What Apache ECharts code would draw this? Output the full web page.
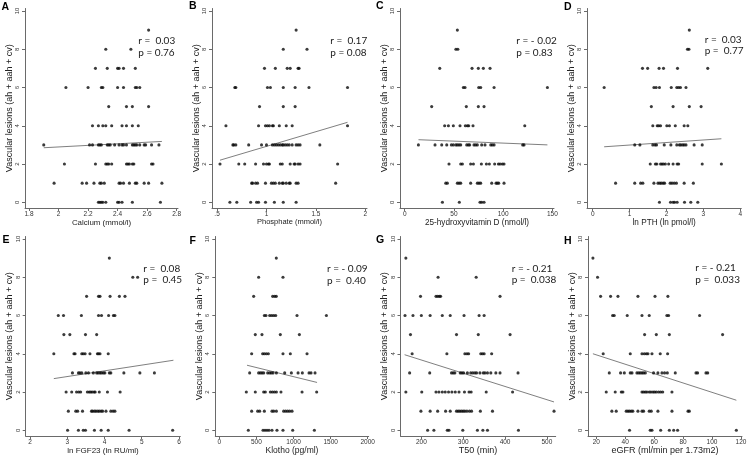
<!DOCTYPE html>
<html>
<head>
<meta charset="utf-8">
<script src="https://cdn.jsdelivr.net/npm/echarts@6/dist/echarts.min.js"></script>
<style>html,body{margin:0;padding:0;background:#fff}#c{width:750px;height:457px}</style>
</head>
<body>
<div id="c"></div>
<script>
// ---- data: rows of [lesion count, [x values]] ----
const calciumRows = [
  [9,[2.61]],[8,[2.32,2.49]],[7,[2.25,2.33,2.40,2.41,2.44,2.52]],
  [6,[2.05,2.20,2.29,2.30,2.40,2.44,2.52,2.53,2.55]],[5,[2.34,2.46,2.50,2.61]],
  [4,[2.23,2.27,2.30,2.32,2.36,2.43,2.46,2.50,2.54]],
  [3,[1.90,2.21,2.23,2.27,2.28,2.29,2.33,2.34,2.35,2.38,2.41,2.43,2.44,2.46,2.50,2.51,2.52,2.53,2.55,2.58,2.59,2.63,2.68]],
  [2,[2.04,2.25,2.32,2.33,2.34,2.36,2.46,2.47,2.48,2.50,2.51,2.63,2.64]],
  [1,[1.97,2.16,2.19,2.24,2.28,2.29,2.31,2.41,2.42,2.44,2.48,2.52,2.53,2.58,2.61,2.70]],
  [0,[2.27,2.28,2.29,2.30,2.32,2.40,2.41,2.43,2.50,2.69]]
];
const calciumFit = [[1.90,2.85],[2.70,3.18]];
const phosphateRows = [
  [9,[1.30]],[8,[1.17,1.41]],[7,[0.98,1.09,1.21,1.24,1.32,1.33]],
  [6,[0.68,0.69,1.01,1.04,1.17,1.29,1.43,1.82]],[5,[0.93,1.17,1.29]],
  [4,[0.59,0.92,0.99,1.01,1.03,1.06,1.07,1.13,1.20,1.26,1.82]],
  [3,[0.66,0.67,0.69,0.82,0.95,1.00,1.06,1.08,1.10,1.12,1.14,1.16,1.17,1.19,1.21,1.23,1.26,1.30,1.32,1.34,1.54]],
  [2,[0.53,0.72,0.78,0.89,0.97,1.00,1.02,1.03,1.14,1.16,1.24,1.28,1.29,1.32,1.34,1.72]],
  [1,[0.85,0.86,0.89,0.91,0.99,1.05,1.07,1.09,1.13,1.16,1.17,1.20,1.23,1.24,1.30,1.32,1.70]],
  [0,[0.63,0.70,0.84,0.90,0.92,0.99,1.08,1.17,1.30]]
];
const phosphateFit = [[0.53,2.2],[1.82,4.18]];
const vitaminDRows = [
  [9,[53.5]],[8,[52,54]],[7,[35.6,68.4,74.8,79.9,86.7]],
  [6,[59.6,61.3,75.2,77.2,90.8,145]],[5,[27.4,62.6,74.8,80.6]],
  [4,[40.6,44.4,49.4,56.2,61.6,63.7,65,69.4,122]],
  [3,[13.9,30.8,37.6,42.7,47.4,49.4,52,53.5,55.2,56.9,63,64.7,66,70.4,72.1,73.8,78.2,81.6,87.4,89,90.8,119.9,121.2]],
  [2,[45,56.9,58.6,67,69.8,77.9,83,86,91.4,95.2,96.9,99.2,100.9]],
  [1,[41.7,43.3,53.5,55.2,56.9,67,73.8,75.5,77.2,88.4,92.8,94.1,95.5,100.9]],
  [0,[38.3,55.5,76.5,78.2,80.6]]
];
const vitaminDFit = [[14,3.27],[145,3.0]];
const pthRows = [
  [9,[2.62]],[8,[2.57,2.61]],[7,[1.35,1.49,1.80,1.92,2.30,3.12]],
  [6,[0.31,1.66,1.72,1.81,2.13,2.28,2.33,2.38,2.53]],[5,[1.59,2.18,2.62,2.94]],
  [4,[1.63,1.75,1.79,1.84,2.01,2.08,2.24,2.48,2.58]],
  [3,[1.14,1.28,1.63,1.69,1.73,1.94,2.12,2.28,2.35,2.39,2.44,2.48,2.53,2.75,2.97]],
  [2,[1.56,1.70,1.74,1.84,1.88,1.92,1.97,2.06,2.18,2.29,2.33,2.97,3.49]],
  [1,[0.62,1.14,1.30,1.36,1.66,1.77,1.82,1.86,1.91,1.95,2.10,2.15,2.21,2.27,2.48,2.73]],
  [0,[1.81,2.11,2.18,2.22,2.29,2.49,2.66,2.85]]
];
const pthFit = [[0.31,2.9],[3.49,3.32]];
const fgf23Rows = [
  [9,[4.13]],[8,[4.76,4.89]],[7,[3.52,3.84,3.88,4.15,4.40,4.55]],
  [6,[2.76,2.90,3.38,3.84,3.92,4.11,4.24,4.28]],[5,[2.91,3.07,3.49,3.79]],
  [4,[2.64,3.18,3.21,3.39,3.43,3.48,3.61,3.81,3.84,3.88,4.10]],
  [3,[3.14,3.30,3.34,3.39,3.50,3.57,3.70,3.79,3.83,3.88,3.92,3.97,4.01,4.13,4.17,4.52,4.95,5.34]],
  [2,[2.97,3.12,3.25,3.31,3.36,3.54,3.59,3.63,3.67,3.72,3.75,3.86,4.08,4.42]],
  [1,[3.03,3.23,3.28,3.41,3.65,3.68,3.73,3.77,3.82,3.86,3.91,3.95,4.04,4.17,4.23,4.28]],
  [0,[3.01,3.30,3.43,3.49,3.73,3.91,4.10,4.66,5.83]]
];
const fgf23Fit = [[2.64,2.7],[5.85,3.66]];
const klothoRows = [
  [9,[768]],[8,[530,858]],[7,[463,719,746,768]],
  [6,[607,629,679,706,733,760,1047,1443]],[5,[485,575,822,1079]],
  [4,[436,584,607,634,661,858,957,1182]],
  [3,[409,530,553,575,598,652,679,701,724,769,881,971,1061,1119,1209,1236,1290]],
  [2,[364,485,598,620,688,715,742,769,831,1115,1312]],
  [1,[436,517,544,607,710,733,769,867,894,921,948,980]],
  [0,[391,589,616,643,670,710,777,858,989,1281]]
];
const klothoFit = [[373,3.4],[1317,2.5]];
const t50Rows = [
  [9,[163]],[8,[240,331]],[7,[198,235,239,243,246,388]],
  [6,[161,180,200,221,250,269,302,338,350]],[5,[174,284,336,412]],
  [4,[178,261,304,309,313,342,346,350,368]],
  [3,[172,220,272,276,280,293,297,301,310,318,323,328,332,340,348,352,358,366,378,388,431]],
  [2,[163,201,235,242,250,257,265,273,281,290,303,314,319,355,418]],
  [1,[199,221,239,258,269,284,288,292,296,300,304,309,315,320,341,370,517]],
  [0,[215,230,262,266,299,334,347,358,432]]
];
const t50Fit = [[160,3.95],[517,1.48]];
const egfrRows = [
  [9,[17.7]],[8,[20.9]],[7,[23,29.9,35,48.8,60.6,69.5]],
  [6,[31.3,32.4,41.4,51.6,56.6,68.8,70,91.4]],[5,[53.4,61.5,70.5,107.3]],
  [4,[24.8,43.5,51.6,53.2,54.6,55.7,58.5,64.2,69.3]],
  [3,[29,36.8,39.4,43.5,44.7,48.1,49.3,50.4,51.6,52.7,53.9,59.6,62.6,65.4,67.2,69.1,74.6,88.9,90,95.8,97]],
  [2,[26.9,33.1,37.3,38.4,51.6,52.7,53.9,55,56.6,57.8,59.2,60.3,61.5,63.1,64.5,65.9,72.3]],
  [1,[30.8,33.8,40.7,41.9,43,44.2,45.3,48.8,51.6,52.7,56.6,58,62.6,72.3,83.4,84.3]],
  [0,[43,57.3,58.5,64.5,70.5,73.5,76.2,116.8]]
];
const egfrFit = [[17.7,4.0],[116.8,1.57]];

// ---- tick labels ----
const yTicks = [0,2,4,6,8,10];
const calciumTicks = [1.8,2,2.2,2.4,2.6,2.8];
const phosphateTicks = [0.5,1,1.5,2];
const phosphateTickLabels = ['.5','1','1.5','2'];
const vitaminDTicks = [0,50,100,150];
const pthTicks = [0,1,2,3,4];
const fgf23Ticks = [2,3,4,5,6];
const klothoTicks = [0,500,1000,1500,2000];
const t50Ticks = [200,300,400,500];
const egfrTicks = [20,40,60,80,100,120];

const yTitle = 'Vascular lesions (ah + aah + cv)';
const stats = [
  ['r =  0.03','p = 0.76'],['r =  0.17','p = 0.08'],['r = - 0.02','p = 0.83'],['r =  0.03','p =  0.77'],
  ['r =  0.08','p =  0.45'],['r = - 0.09','p =  0.40'],['r = - 0.21','p =  0.038'],['r = - 0.21','p =  0.033']
];
const letters = ['A','B','C','D','E','F','G','H'];

// ---- layout (positions / styles) ----
const panels = [
  {rows:calciumRows, fit:calciumFit, ticks:calciumTicks, name:'Calcium (mmol/l)', left:25, width:153, row:0, xMin:1.773, xMax:2.809, ns:7.9, ann:[138.3,41], let:[1.5,7]},
  {rows:phosphateRows, fit:phosphateFit, ticks:phosphateTicks, labels:phosphateTickLabels, name:'Phosphate (mmol/l)', left:212, width:155, row:0, xMin:0.449, xMax:2.017, ns:7.5, ann:[330.3,41], let:[189,6.5]},
  {rows:vitaminDRows, fit:vitaminDFit, ticks:vitaminDTicks, name:'25-hydroxyvitamin D (nmol/l)', left:400, width:154, row:0, xMin:-4.8, xMax:151.7, ns:8.2, ann:[516.3,41], let:[376,6]},
  {rows:pthRows, fit:pthFit, ticks:pthTicks, name:'ln PTH (ln pmol/l)', left:587, width:154.3, row:0, xMin:-0.155, xMax:4.03, ns:8.2, ann:[704.7,39.3], let:[564,7]},
  {rows:fgf23Rows, fit:fgf23Fit, ticks:fgf23Ticks, name:'ln FGF23 (ln RU/ml)', left:25.7, width:154.6, row:1, xMin:1.885, xMax:6.035, ns:8, ann:[143.3,268.3], let:[2.5,240.5]},
  {rows:klothoRows, fit:klothoFit, ticks:klothoTicks, name:'Klotho (pg/ml)', left:215.3, width:153.4, row:1, xMin:-54, xMax:2013, ns:8.5, ann:[327,269], let:[189.5,241]},
  {rows:t50Rows, fit:t50Fit, ticks:t50Ticks, name:'T50 (min)', left:400.5, width:155.2, row:1, xMin:150.2, xMax:521, ns:9, ann:[511.7,268.3], let:[376,240.5]},
  {rows:egfrRows, fit:egfrFit, ticks:egfrTicks, name:'eGFR (ml/min per 1.73m2)', left:588, width:154, row:1, xMin:14.3, xMax:120.7, ns:9.0, ann:[695.3,268], let:[564,241]}
];
const rowTop = [8.5, 236.5];
const gridH = 199.5;
const yMin = -0.3, yMax = 10.13;
const FONT = 'Liberation Sans, Arial, Helvetica, sans-serif';
const axisCol = '#6a6a6a';

const grids = [], xAxes = [], yAxes = [], series = [], graphics = [];
panels.forEach((p, i) => {
  grids.push({left:p.left, top:rowTop[p.row], width:p.width, height:gridH, containLabel:false, outerBoundsMode:'none'});
  const fmt = (v) => {
    const k = p.ticks.findIndex(t => Math.abs(t - v) < 1e-9);
    if (p.labels && k >= 0) return p.labels[k];
    return String(+v.toFixed(4));
  };
  xAxes.push({
    gridIndex:i, type:'value', min:p.xMin, max:p.xMax,
    axisLine:{show:true, onZero:false, lineStyle:{color:axisCol, width:1}},
    axisTick:{show:true, customValues:p.ticks, length:3, lineStyle:{color:axisCol, width:1}},
    axisLabel:{show:true, customValues:p.ticks, formatter:fmt, fontSize:6.5, margin:2.5, color:'#333', fontFamily:FONT},
    splitLine:{show:false},
    name:p.name, nameLocation:'middle', nameGap:10,
    nameTextStyle:{fontSize:p.ns, color:'#222', fontFamily:FONT}
  });
  yAxes.push({
    gridIndex:i, type:'value', min:yMin, max:yMax,
    axisLine:{show:true, onZero:false, lineStyle:{color:axisCol, width:1}},
    axisTick:{show:true, customValues:yTicks, length:3, lineStyle:{color:axisCol, width:1}},
    axisLabel:{show:true, customValues:yTicks, rotate:90, fontSize:6, margin:4.5, color:'#333', fontFamily:FONT},
    splitLine:{show:false},
    name:yTitle, nameLocation:'middle', nameGap:11, nameRotate:90,
    nameTextStyle:{fontSize:9, color:'#222', fontFamily:FONT}
  });
  const pts = [];
  p.rows.forEach(([y, xs]) => xs.forEach(x => pts.push([x, y])));
  series.push({type:'scatter', xAxisIndex:i, yAxisIndex:i, data:pts, symbol:'circle', symbolSize:3.1,
    itemStyle:{color:'#0a0a0a'}, silent:true, clip:false, z:3});
  series.push({type:'line', xAxisIndex:i, yAxisIndex:i, data:p.fit, showSymbol:false, symbol:'none',
    lineStyle:{color:'#707070', width:0.9}, silent:true, z:2});
  graphics.push({type:'text', x:p.let[0], y:p.let[1], style:{text:letters[i], font:'bold 10.5px ' + FONT, fill:'#000', verticalAlign:'middle', align:'left'}});
  graphics.push({type:'text', x:p.ann[0], y:p.ann[1], style:{text:stats[i][0], font:'10px Lato, "Open Sans", sans-serif', fill:'#1a1a1a', verticalAlign:'middle', align:'left'}});
  graphics.push({type:'text', x:p.ann[0], y:p.ann[1] + 11.7, style:{text:stats[i][1], font:'10px Lato, "Open Sans", sans-serif', fill:'#1a1a1a', verticalAlign:'middle', align:'left'}});
});

const chart = echarts.init(document.getElementById('c'), null, {renderer:'canvas'});
chart.setOption({
  backgroundColor:'#fff', animation:false,
  grid:grids, xAxis:xAxes, yAxis:yAxes, series:series, graphic:graphics
});
</script>
</body>
</html>
